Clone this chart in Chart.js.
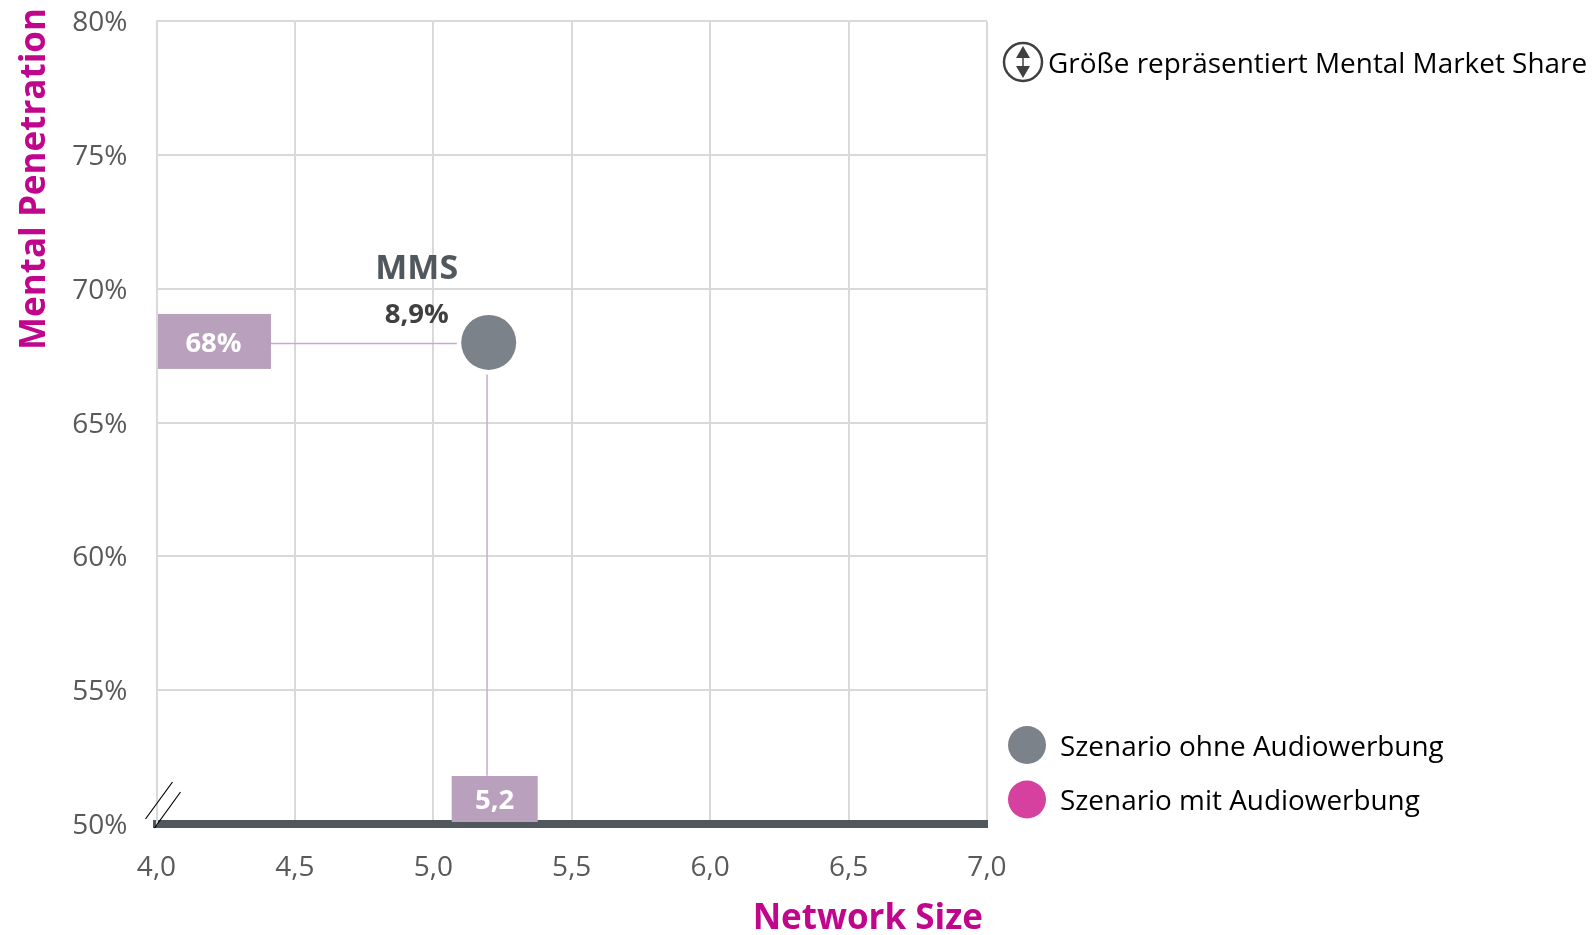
<!DOCTYPE html>
<html>
<head>
<meta charset="utf-8">
<title>Mental Penetration / Network Size</title>
<script src="https://cdn.jsdelivr.net/npm/chart.js@4"></script>
<style>
  html, body { margin: 0; padding: 0; background: #fff; }
  #wrap { width: 1595px; height: 935px; position: relative; }
</style>
</head>
<body>
<div id="wrap"><canvas id="chart" width="1595" height="935"></canvas></div>
<script>
const networkSize = [5.2];
const mentalPenetration = [68];
const mmsLabel = '8,9%';
const xTicks = [4, 4.5, 5, 5.5, 6, 6.5, 7];
const yTicks = [50, 55, 60, 65, 70, 75, 80];
const scenarioNames = ['Szenario ohne Audiowerbung', 'Szenario mit Audiowerbung'];
const scenarioColors = ['#7c8289', '#d6409f'];
const guideX = [4.41, 5.085];
const guideY = [66.8, 51.8];

const FONT = '"Open Sans", sans-serif';
const MAGENTA = '#c0068c';
const BOXCOL = '#b9a0bd';
const LINECOL = '#c6abca';

function comma(v) { return v.toFixed(1).replace('.', ','); }

function textAt(ctx, str, x, y, font, color, align) {
  ctx.font = font;
  ctx.fillStyle = color;
  ctx.textAlign = align || 'center';
  ctx.textBaseline = 'middle';
  ctx.fillText(str, x, y);
}

const decorations = {
  id: 'decorations',
  afterDatasetsDraw(chart) {
    const ctx = chart.ctx;
    const sx = chart.scales.x, sy = chart.scales.y;
    const area = chart.chartArea;
    ctx.save();

    // value boxes on the axes
    const py = sy.getPixelForValue(mentalPenetration[0]);
    const px = sx.getPixelForValue(networkSize[0]);
    ctx.fillStyle = BOXCOL;
    ctx.fillRect(area.left + 1.5, py - 28.5, 113, 55);
    ctx.fillRect(px - 37, area.bottom - 48, 86, 46);
    textAt(ctx, mentalPenetration[0] + '%', area.left + 57, py + 2, 'bold 27.5px ' + FONT, '#fff');
    textAt(ctx, comma(networkSize[0]), px + 6, area.bottom - 23, 'bold 27.5px ' + FONT, '#fff');

    // labels above the bubble
    textAt(ctx, 'MMS', px - 72, py - 73, 'bold 34px ' + FONT, '#50575d');
    textAt(ctx, mmsLabel, px - 72, py - 27, 'bold 27.5px ' + FONT, '#404040');

    // axis break
    ctx.strokeStyle = '#000';
    ctx.lineWidth = 1.2;
    ctx.beginPath();
    ctx.moveTo(area.left - 11, area.bottom - 5);
    ctx.lineTo(area.left + 16, area.bottom - 42);
    ctx.moveTo(area.left - 2, area.bottom + 4);
    ctx.lineTo(area.left + 24, area.bottom - 32);
    ctx.stroke();

    // axis titles
    textAt(ctx, 'Network Size', 983, 919, 'bold 35px ' + FONT, MAGENTA, 'right');
    ctx.save();
    ctx.translate(35, 8);
    ctx.rotate(-Math.PI / 2);
    textAt(ctx, 'Mental Penetration', 0, 0, 'bold 35px ' + FONT, MAGENTA, 'right');
    ctx.restore();

    // size note with icon
    const ix = 1023, iy = 62;
    ctx.strokeStyle = '#404040';
    ctx.lineWidth = 2.5;
    ctx.beginPath();
    ctx.arc(ix, iy, 19, 0, Math.PI * 2);
    ctx.stroke();
    ctx.fillStyle = '#404040';
    ctx.beginPath();
    ctx.moveTo(ix, iy - 16);
    ctx.lineTo(ix + 7, iy - 4);
    ctx.lineTo(ix - 7, iy - 4);
    ctx.closePath();
    ctx.moveTo(ix, iy + 16);
    ctx.lineTo(ix + 7, iy + 4);
    ctx.lineTo(ix - 7, iy + 4);
    ctx.closePath();
    ctx.fill();
    ctx.lineWidth = 1.5;
    ctx.beginPath();
    ctx.moveTo(ix, iy - 6);
    ctx.lineTo(ix, iy + 6);
    ctx.stroke();
    textAt(ctx, 'Größe repräsentiert Mental Market Share', 1048, 65, '27.9px ' + FONT, '#000', 'left');

    // legend
    scenarioNames.forEach(function (name, i) {
      const ly = 745 + i * 54.5;
      ctx.fillStyle = scenarioColors[i];
      ctx.beginPath();
      ctx.arc(1027, ly, 19, 0, Math.PI * 2);
      ctx.fill();
      textAt(ctx, name, 1060, ly + 3, '27.9px ' + FONT, '#000', 'left');
    });

    ctx.restore();
  }
};

new Chart(document.getElementById('chart').getContext('2d'), {
  type: 'bubble',
  data: {
    datasets: [
      {
        label: scenarioNames[0],
        data: networkSize.map(function (x, i) { return { x: x, y: mentalPenetration[i], r: 27.5 }; }),
        backgroundColor: scenarioColors[0],
        borderWidth: 0,
        order: 1
      },
      {
        label: scenarioNames[1],
        data: [],
        backgroundColor: scenarioColors[1],
        borderWidth: 0,
        order: 2
      },
      {
        type: 'line',
        label: 'guide y',
        data: guideX.map(function (x) { return { x: x, y: mentalPenetration[0] - 0.04 }; }),
        borderColor: LINECOL,
        borderWidth: 1.5,
        pointRadius: 0,
        order: 3
      },
      {
        type: 'line',
        label: 'guide x',
        data: guideY.map(function (y) { return { x: networkSize[0] - 0.006, y: y }; }),
        borderColor: LINECOL,
        borderWidth: 1.5,
        pointRadius: 0,
        order: 3
      }
    ]
  },
  options: {
    responsive: false,
    animation: false,
    events: [],
    // bubble radius would otherwise push the plot area down
    layout: { autoPadding: false, padding: { left: 0, top: 21.4, right: 608, bottom: 0 } },
    plugins: { legend: { display: false }, tooltip: { enabled: false } },
    scales: {
      x: {
        type: 'linear',
        min: 4,
        max: 7,
        afterFit: function (s) { s.height = 111; s.paddingLeft = 0; s.paddingRight = 0; },
        afterBuildTicks: function (s) { s.ticks = xTicks.map(function (v) { return { value: v }; }); },
        grid: { color: '#d9d9d9', lineWidth: 2, drawTicks: false },
        border: { color: '#50575d', width: 8 },
        ticks: {
          padding: 27,
          maxRotation: 0,
          color: '#595959',
          font: { family: '"Open Sans"', size: 28 },
          callback: function (v) { return comma(v); }
        }
      },
      y: {
        type: 'linear',
        min: 50,
        max: 80,
        afterFit: function (s) { s.width = 156.5; s.paddingTop = 0; s.paddingBottom = 0; },
        afterBuildTicks: function (s) { s.ticks = yTicks.map(function (v) { return { value: v }; }); },
        grid: { color: '#d9d9d9', lineWidth: 2, drawTicks: false },
        border: { color: '#d9d9d9', width: 2 },
        ticks: {
          padding: 29,
          labelOffset: 2,
          color: '#595959',
          font: { family: '"Open Sans"', size: 28 },
          callback: function (v) { return v + '%'; }
        }
      }
    }
  },
  plugins: [decorations]
});
</script>
</body>
</html>
